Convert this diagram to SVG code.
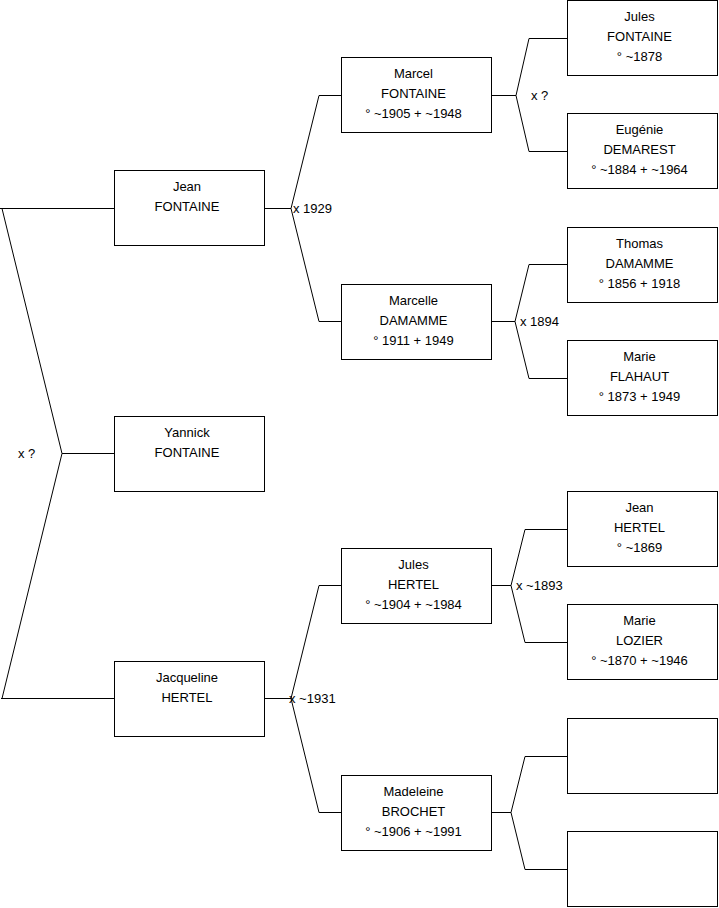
<svg xmlns="http://www.w3.org/2000/svg" width="719" height="908" viewBox="0 0 719 908">
<style>
.box{fill:#fff;stroke:#000;stroke-width:1}
.t{font-family:"Liberation Sans",Arial,sans-serif;font-size:13px;fill:#000;text-anchor:middle}
.l{font-family:"Liberation Sans",Arial,sans-serif;font-size:13px;fill:#000}
.c{fill:none;stroke:#000;stroke-width:1}
</style>
<rect width="719" height="908" fill="#fff"/>
<g id="connectors">
<path class="c" d="M0,208.5H114M2,208.5L62,453.5L2,698.5M62,453.5H114M1,698.5H114"/>
<path class="c" d="M264,208.5H291M341,95.5H319L291,208.5L319,321.5H341"/>
<path class="c" d="M264,698.5H291M341,585.5H319L291,698.5L319,812.5H341"/>
<path class="c" d="M491,95.5H516M567,38.5H529L516,95.5L529,151.5H567"/>
<path class="c" d="M491,321.5H515M567,264.5H529L515,321.5L529,378.5H567"/>
<path class="c" d="M491,585.5H511M567,529.5H525L511,585.5L525,642.5H567"/>
<path class="c" d="M491,812.5H511M567,756.5H525L511,812.5L525,869.5H567"/>
<text class="l" x="18" y="458">x ?</text>
<text class="l" x="293" y="212.5">x 1929</text>
<text class="l" x="289" y="702.5">x ~1931</text>
<text class="l" x="531" y="99.5">x ?</text>
<text class="l" x="520" y="325.5">x 1894</text>
<text class="l" x="516" y="589.5">x ~1893</text>
</g>
<g id="jean-fontaine"><rect class="box" x="114.5" y="170.5" width="150" height="75"/><text class="t" x="187" y="191">Jean</text><text class="t" x="187" y="211">FONTAINE</text></g>
<g id="yannick-fontaine"><rect class="box" x="114.5" y="416.5" width="150" height="75"/><text class="t" x="187" y="437">Yannick</text><text class="t" x="187" y="457">FONTAINE</text></g>
<g id="jacqueline-hertel"><rect class="box" x="114.5" y="661.5" width="150" height="75"/><text class="t" x="187" y="682">Jacqueline</text><text class="t" x="187" y="702">HERTEL</text></g>
<g id="marcel-fontaine"><rect class="box" x="341.5" y="57.5" width="150" height="75"/><text class="t" x="413.5" y="78">Marcel</text><text class="t" x="413.5" y="98">FONTAINE</text><text class="t" x="413.5" y="118">° ~1905 + ~1948</text></g>
<g id="marcelle-damamme"><rect class="box" x="341.5" y="284.5" width="150" height="75"/><text class="t" x="413.5" y="305">Marcelle</text><text class="t" x="413.5" y="325">DAMAMME</text><text class="t" x="413.5" y="345">° 1911 + 1949</text></g>
<g id="jules-hertel"><rect class="box" x="341.5" y="548.5" width="150" height="75"/><text class="t" x="413.5" y="569">Jules</text><text class="t" x="413.5" y="589">HERTEL</text><text class="t" x="413.5" y="609">° ~1904 + ~1984</text></g>
<g id="madeleine-brochet"><rect class="box" x="341.5" y="775.5" width="150" height="75"/><text class="t" x="413.5" y="796">Madeleine</text><text class="t" x="413.5" y="816">BROCHET</text><text class="t" x="413.5" y="836">° ~1906 + ~1991</text></g>
<g id="jules-fontaine"><rect class="box" x="567.5" y="0.5" width="150" height="75"/><text class="t" x="639.5" y="21">Jules</text><text class="t" x="639.5" y="41">FONTAINE</text><text class="t" x="639.5" y="61">° ~1878</text></g>
<g id="eugenie-demarest"><rect class="box" x="567.5" y="113.5" width="150" height="75"/><text class="t" x="639.5" y="134">Eugénie</text><text class="t" x="639.5" y="154">DEMAREST</text><text class="t" x="639.5" y="174">° ~1884 + ~1964</text></g>
<g id="thomas-damamme"><rect class="box" x="567.5" y="227.5" width="150" height="75"/><text class="t" x="639.5" y="248">Thomas</text><text class="t" x="639.5" y="268">DAMAMME</text><text class="t" x="639.5" y="288">° 1856 + 1918</text></g>
<g id="marie-flahaut"><rect class="box" x="567.5" y="340.5" width="150" height="75"/><text class="t" x="639.5" y="361">Marie</text><text class="t" x="639.5" y="381">FLAHAUT</text><text class="t" x="639.5" y="401">° 1873 + 1949</text></g>
<g id="jean-hertel"><rect class="box" x="567.5" y="491.5" width="150" height="75"/><text class="t" x="639.5" y="512">Jean</text><text class="t" x="639.5" y="532">HERTEL</text><text class="t" x="639.5" y="552">° ~1869</text></g>
<g id="marie-lozier"><rect class="box" x="567.5" y="604.5" width="150" height="75"/><text class="t" x="639.5" y="625">Marie</text><text class="t" x="639.5" y="645">LOZIER</text><text class="t" x="639.5" y="665">° ~1870 + ~1946</text></g>
<g id="empty-1"><rect class="box" x="567.5" y="718.5" width="150" height="75"/></g>
<g id="empty-2"><rect class="box" x="567.5" y="831.5" width="150" height="75"/></g>
</svg>
